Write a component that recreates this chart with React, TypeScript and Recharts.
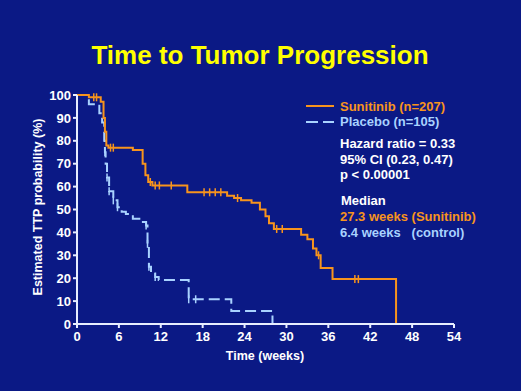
import { LineChart, Line, XAxis, YAxis } from 'recharts'

// Kaplan-Meier curves: t = weeks, s = % without progression, c = censored mark
const sunitinib = [
  { t: 0, s: 100 }, { t: 1.7, s: 99 }, { t: 2.4, s: 99, c: 1 }, { t: 2.8, s: 99, c: 1 },
  { t: 3.4, s: 97 }, { t: 3.8, s: 90 }, { t: 4.0, s: 84 }, { t: 4.2, s: 78 },
  { t: 4.5, s: 77 }, { t: 4.8, s: 77, c: 1 }, { t: 5.2, s: 77, c: 1 },
  { t: 8.0, s: 76 }, { t: 9.4, s: 70 }, { t: 9.8, s: 65 }, { t: 10.2, s: 62 },
  { t: 10.5, s: 62, c: 1 }, { t: 10.8, s: 60.5 }, { t: 11.2, s: 60.5, c: 1 }, { t: 11.8, s: 60.5, c: 1 },
  { t: 13.5, s: 60.5, c: 1 }, { t: 15.8, s: 57.5 }, { t: 18.2, s: 57.5, c: 1 }, { t: 19.0, s: 57.5, c: 1 },
  { t: 19.8, s: 57.5, c: 1 }, { t: 20.6, s: 57.5, c: 1 }, { t: 21.5, s: 56 }, { t: 22.5, s: 55 },
  { t: 23.0, s: 55, c: 1 }, { t: 23.5, s: 54 }, { t: 25.0, s: 53 }, { t: 26.2, s: 50 },
  { t: 27.0, s: 47 }, { t: 27.5, s: 44 }, { t: 28.2, s: 41.5 }, { t: 28.6, s: 41.5, c: 1 },
  { t: 29.4, s: 41.5, c: 1 }, { t: 32.1, s: 39 }, { t: 33.0, s: 37 }, { t: 33.8, s: 33 },
  { t: 34.3, s: 30 }, { t: 34.6, s: 30, c: 1 }, { t: 34.9, s: 24.5 }, { t: 36.6, s: 19.6 },
  { t: 39.8, s: 19.6, c: 1 }, { t: 40.3, s: 19.6, c: 1 }, { t: 45.7, s: 0 },
]

const placebo = [
  { t: 0, s: 100 }, { t: 1.7, s: 96 }, { t: 3.2, s: 92 }, { t: 3.6, s: 88 },
  { t: 3.9, s: 80 }, { t: 4.0, s: 75, c: 1 }, { t: 4.1, s: 70 }, { t: 4.3, s: 64, c: 1 },
  { t: 4.6, s: 58, c: 1 }, { t: 5.2, s: 54, c: 1 }, { t: 5.8, s: 51, c: 1 }, { t: 6.4, s: 49 },
  { t: 7.0, s: 48 }, { t: 8.0, s: 46 }, { t: 9.2, s: 44.5 }, { t: 9.9, s: 43, c: 1 },
  { t: 10.1, s: 35, c: 1 }, { t: 10.3, s: 25, c: 1 }, { t: 10.6, s: 22 }, { t: 11.2, s: 20.5, c: 1 },
  { t: 11.7, s: 19.2 }, { t: 16.0, s: 10.8, c: 1 }, { t: 17.0, s: 10.8, c: 1 }, { t: 22.1, s: 5.7 },
  { t: 28.0, s: 0 },
]

const xTicks = [0, 6, 12, 18, 24, 30, 36, 42, 48, 54]
const yTicks = [0, 10, 20, 30, 40, 50, 60, 70, 80, 90, 100]

const ORANGE = '#f7941d'
const LIGHT = '#a9d2ff'
const BG = '#0b1985'
const FONT = 'Arial, "Liberation Sans", sans-serif'

const censorDot = (color: string) => (p: any) => {
  const { cx, cy, payload, index } = p
  if (!payload.c) return <g key={index} />
  return <line key={index} x1={cx} x2={cx} y1={cy - 4} y2={cy + 4} stroke={color} strokeWidth={1.5} />
}

const tickStyle = { fill: '#ffffff', fontSize: 13, fontWeight: 'bold', fontFamily: FONT }

export default function App() {
  return (
    <div style={{ position: 'absolute', left: 0, top: 0, width: 521, height: 391, background: BG, fontFamily: FONT }}>
      <LineChart width={521} height={391} margin={{ top: 95, right: 67, bottom: 37, left: 47 }}>
        <XAxis
          type="number" dataKey="t" domain={[0, 54]} ticks={xTicks} interval={0}
          height={30} stroke="#e8eeff" strokeWidth={2} tickSize={4} tickMargin={4} tick={tickStyle}
        />
        <YAxis
          type="number" dataKey="s" domain={[0, 100]} ticks={yTicks} interval={0}
          width={30} stroke="#e8eeff" strokeWidth={2} tickSize={4} tickMargin={2} tick={tickStyle}
        />
        <Line
          data={placebo} dataKey="s" type="stepAfter" stroke={LIGHT} strokeWidth={2}
          strokeDasharray="11 5" dot={censorDot(LIGHT)} activeDot={false} isAnimationActive={false}
        />
        <Line
          data={sunitinib} dataKey="s" type="stepAfter" stroke={ORANGE} strokeWidth={2}
          dot={censorDot(ORANGE)} activeDot={false} isAnimationActive={false}
        />
      </LineChart>
      <svg width={521} height={391} style={{ position: 'absolute', left: 0, top: 0, pointerEvents: 'none' }}>
        <text x={260} y={64} textAnchor="middle" fill="#ffff00" fontSize={26} fontWeight="bold" fontFamily={FONT}>
          Time to Tumor Progression
        </text>
        <text transform="translate(42,207) rotate(-90)" textAnchor="middle" fill="#ffffff" fontSize={12.5} fontWeight="bold" fontFamily={FONT}>
          Estimated TTP probability (%)
        </text>
        <text x={265} y={360} textAnchor="middle" fill="#ffffff" fontSize={12.5} fontWeight="bold" fontFamily={FONT}>
          Time (weeks)
        </text>
        <line x1={306} x2={334} y1={106} y2={106} stroke={ORANGE} strokeWidth={2} />
        <line x1={306} x2={318} y1={122} y2={122} stroke={LIGHT} strokeWidth={2} />
        <line x1={323} x2={334} y1={122} y2={122} stroke={LIGHT} strokeWidth={2} />
        <g fontSize={13} fontWeight="bold" fontFamily={FONT}>
          <text x={340} y={111} fill={ORANGE}>Sunitinib (n=207)</text>
          <text x={340} y={126} fill={LIGHT}>Placebo (n=105)</text>
          <text x={340} y={148} fill="#ffffff">Hazard ratio = 0.33</text>
          <text x={340} y={164} fill="#ffffff">95% CI (0.23, 0.47)</text>
          <text x={340} y={179} fill="#ffffff">p &lt; 0.00001</text>
          <text x={341} y={205} fill="#ffffff">Median</text>
          <text x={340} y={221} fill={ORANGE}>27.3 weeks (Sunitinib)</text>
          <text x={340} y={237} fill={LIGHT} xmlSpace="preserve">6.4 weeks   (control)</text>
        </g>
      </svg>
    </div>
  )
}
